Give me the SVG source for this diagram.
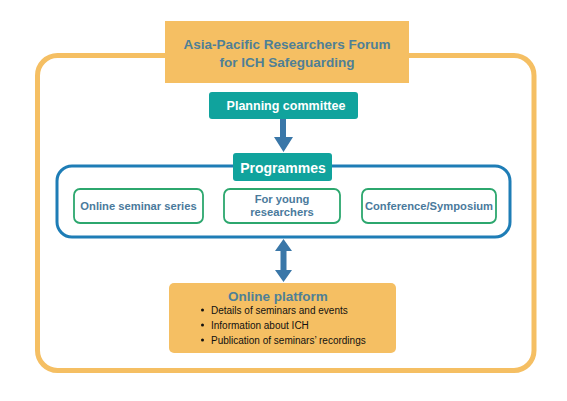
<svg xmlns="http://www.w3.org/2000/svg" width="567" height="401" viewBox="0 0 567 401">
<style>
.t{font-family:"Liberation Sans",Arial,sans-serif;font-weight:bold}
.ttl{fill:#4F7F96;font-size:13.5px}
.wh{fill:#ffffff}
.sub{fill:#4A7A9C;font-size:11.2px}
.bl{font-family:"Liberation Sans",Arial,sans-serif;font-size:10px;fill:#111}
.teal{fill:#10A39D}
.prog{fill:#ffffff;stroke:#2CA76E;stroke-width:1.8}
.arr{fill:#3A77A8}
</style>
<rect width="567" height="401" fill="#ffffff"/>
<g id="outer-frame">
<rect x="37.5" y="55.5" width="496.5" height="315" rx="20" fill="none" stroke="#F5BF63" stroke-width="5"/>
</g>
<g id="connectors">
<path class="arr" d="M280,119 H286 V137 H293 L283.5,152 L274,137 H280 Z"/>
<path class="arr" d="M283.5,239 L292,251 H286.5 V270 H292 L283.5,282 L275,270 H280.5 V251 H275 Z"/>
</g>
<g id="title">
<rect x="165" y="21" width="244" height="62" fill="#F5BF63"/>
<text class="t ttl" x="287" y="48.5" text-anchor="middle">Asia-Pacific Researchers Forum</text>
<text class="t ttl" x="287" y="67" text-anchor="middle">for ICH Safeguarding</text>
</g>
<g id="planning-committee">
<rect class="teal" x="209" y="92" width="149" height="27" rx="3"/>
<text class="t wh" x="286" y="110" font-size="12.5" text-anchor="middle">Planning committee</text>
</g>
<g id="programmes-group">
<rect x="57" y="166" width="453" height="71" rx="15" fill="none" stroke="#1E7DB6" stroke-width="3"/>
</g>
<g id="programmes">
<rect class="teal" x="233" y="153" width="99" height="28" rx="3"/>
<text class="t wh" x="283" y="172.5" font-size="14" text-anchor="middle">Programmes</text>
</g>
<g id="online-seminar-series">
<rect class="prog" x="74" y="189" width="129" height="34" rx="6"/>
<text class="t sub" x="138.5" y="210" text-anchor="middle">Online seminar series</text>
</g>
<g id="for-young-researchers">
<rect class="prog" x="224" y="189" width="116" height="34" rx="6"/>
<text class="t sub" x="282" y="203" text-anchor="middle">For young</text>
<text class="t sub" x="282" y="216" text-anchor="middle">researchers</text>
</g>
<g id="conference-symposium">
<rect class="prog" x="362" y="189" width="134" height="34" rx="6"/>
<text class="t sub" x="429" y="210" text-anchor="middle">Conference/Symposium</text>
</g>
<g id="online-platform">
<rect x="169" y="283" width="227" height="70" rx="5" fill="#F5BF63"/>
<text class="t ttl" x="278" y="301" font-size="13.5" text-anchor="middle">Online platform</text>
<circle cx="202.5" cy="310" r="1.5" fill="#111"/>
<circle cx="202.5" cy="325" r="1.5" fill="#111"/>
<circle cx="202.5" cy="340" r="1.5" fill="#111"/>
<text class="bl" x="211" y="313.5">Details of seminars and events</text>
<text class="bl" x="211" y="328.5">Information about ICH</text>
<text class="bl" x="211" y="343.5">Publication of seminars’ recordings</text>
</g>
</svg>
